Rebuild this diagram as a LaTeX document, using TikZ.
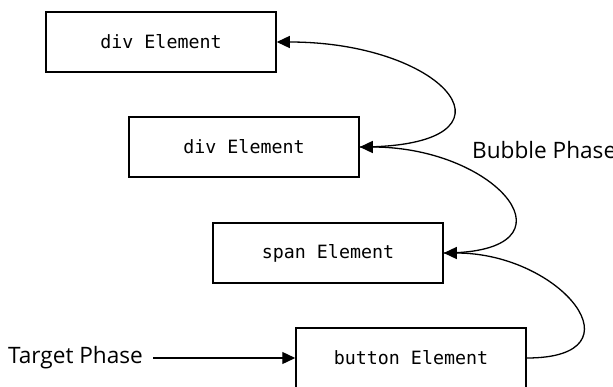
\documentclass[tikz,border=0pt]{standalone}
\usepackage{fontspec}
\setmainfont{Open Sans}
\setmonofont{DejaVu Sans Mono}
\usetikzlibrary{arrows.meta}

\tikzset{
  elem/.style={draw,line width=1.5pt,minimum width=230pt,minimum height=60pt,
    inner sep=0pt,font=\ttfamily\fontsize{18.3}{21}\selectfont},
  flow/.style={line width=1.3pt,-{Triangle[length=13pt,width=12pt]}},
  lbl/.style={inner sep=0pt,font=\fontsize{22.6}{26}\selectfont}
}

\begin{document}
\begin{tikzpicture}[x=1pt,y=-1pt]
\useasboundingbox (0,0) rectangle (613,386);
\node[elem] (div1) at (161,42) {div Element};
\node[elem] (div2) at (244,147) {div Element};
\node[elem] (span) at (328,253) {span Element};
\node[elem] (button) at (411,358) {button Element};
\node[lbl,anchor=west] (target) at (8,358) {Target Phase};
\node[lbl,anchor=west] (bubble) at (472,150) {Bubble Phases};
\coordinate (tstart) at ([xshift=10pt]target.east);
\draw[flow] (tstart) -- (button.west);
% bubbling up
\draw[flow] (button.east) .. controls +(118,0) and +(118,0) .. (span.east);
\draw[flow] (span.east) .. controls +(140,0) and +(140,0) .. (div2.east);
\draw[flow] (div2.east) .. controls +(172,0) and +(172,0) .. (div1.east);
\end{tikzpicture}
\end{document}
